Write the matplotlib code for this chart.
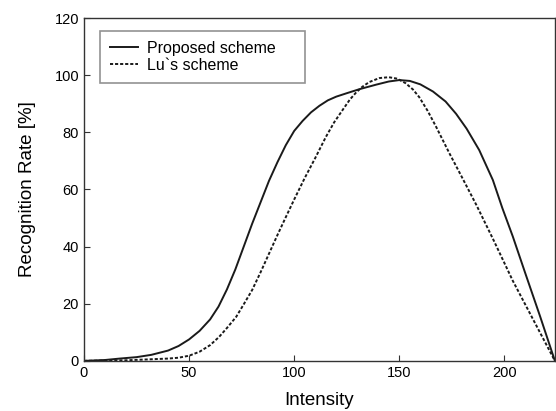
import matplotlib.pyplot as plt

plt.rcParams['font.family'] = ['Liberation Sans', 'DejaVu Sans']

# Proposed scheme (solid line)
prop_x = [0, 10, 17, 25, 32, 40, 45, 50, 55, 60, 64, 68, 72, 76, 80, 84, 88, 92,
          96, 100, 104, 108, 112, 116, 120, 125, 131, 139, 145, 150, 155, 160,
          166, 172, 177, 182, 188, 194.5, 199, 204, 210, 217, 224]
prop_y = [0, 0.3, 0.8, 1.3, 2.1, 3.6, 5.2, 7.5, 10.5, 14.5, 19, 25, 32, 40, 48,
          55.5, 63, 69.5, 75.5, 80.5, 84, 87, 89.3, 91.2, 92.5, 93.7, 95.1, 96.7,
          97.8, 98.3, 98, 96.8, 94.3, 90.8, 86.5, 81.3, 73.8, 63.3, 53.5, 43.5,
          30.5, 15.5, 0]

# Lu's scheme (dotted line)
lu_x = [0, 20, 30, 40, 45, 50, 55, 60, 64.3, 68, 72.4, 76, 80, 84, 88, 92, 96,
        100, 105, 110, 115, 119, 123, 126.5, 129.5, 132.5, 135.7, 140.5, 145,
        149, 153, 156.5, 159.5, 163.5, 167.6, 173.8, 180, 186.7, 195, 204, 214, 224]
lu_y = [0, 0.2, 0.5, 0.8, 1.1, 1.8, 3.2, 5.5, 8.4, 11.5, 15.4, 19.8, 24.8, 31,
        37.5, 44, 50.3, 56.5, 64, 71, 78.3, 83.5, 87.8, 91.5, 94, 96, 97.6, 99,
        99.3, 98.8, 97.2, 95, 92.3, 87.5, 81.8, 72.7, 64, 54.5, 42, 28, 14, 0]

fig = plt.figure(figsize=(5.56, 4.11), dpi=100)
ax = fig.add_axes([0.151, 0.122, 0.847, 0.834])

ax.plot(prop_x, prop_y, color='#1a1a1a', lw=1.4, label='Proposed scheme')
ax.plot(lu_x, lu_y, color='#1a1a1a', lw=1.4, linestyle=(0, (1.6, 1.0)), label='Lu`s scheme')

ax.set_xlim(0, 224)
ax.set_ylim(0, 120)
ax.set_xticks([0, 50, 100, 150, 200])
ax.set_yticks([0, 20, 40, 60, 80, 100, 120])
ax.tick_params(direction='in', labelsize=10.5, length=4, color='#333333')
for s in ax.spines.values():
    s.set_color('#333333')
    s.set_linewidth(1.0)

ax.set_xlabel('Intensity', fontsize=13.5, labelpad=9)
ax.set_ylabel('Recognition Rate [%]', fontsize=13.5, labelpad=13)

leg = ax.legend(loc='upper left', fontsize=11.5, fancybox=False, edgecolor='#777777',
                mode='expand', bbox_to_anchor=(0.034, 0.0, 0.435, 0.962),
                borderaxespad=0.0, handlelength=1.75, handletextpad=0.6,
                labelspacing=0.15, borderpad=0.6)
leg.get_frame().set_linewidth(1.2)

fig.savefig('out.png', dpi=100)
